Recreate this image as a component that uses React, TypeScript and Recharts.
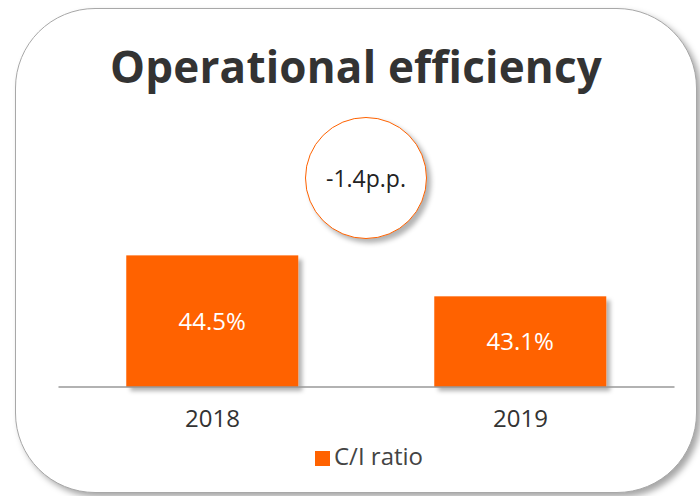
import React from 'react';
import { BarChart, Bar, XAxis, YAxis, Legend, LabelList } from 'recharts';

const years = ['2018', '2019'];
const ciRatio = [44.5, 43.1];
const changeLabel = '-1.4p.p.';

const data = years.map((year, i) => ({ year, ci: ciRatio[i] }));

const ORANGE = '#ff6200';
const FONT = '"Open Sans", "Noto Sans", sans-serif';

const ShadowBar = (props: any) => {
  const { x, y, width, height, fill } = props;
  return <rect x={x} y={y} width={width} height={height} fill={fill} filter="url(#barShadow)" />;
};

export default function App() {
  return (
    <div style={{ position: 'absolute', left: 0, top: 0, width: 700, height: 496, background: '#fff', fontFamily: FONT, overflow: 'hidden' }}>
      {/* card */}
      <div
        style={{
          position: 'absolute',
          left: 15,
          top: 8,
          width: 680,
          height: 483,
          border: '1.5px solid #a8a8a8',
          borderRadius: 80,
          boxShadow: '4px 4px 6px rgba(0,0,0,0.35)',
          background: '#fff',
        }}
      />
      <div
        style={{
          position: 'absolute',
          left: 0,
          top: 38,
          width: 712,
          textAlign: 'center',
          fontSize: 44,
          lineHeight: '56px',
          fontWeight: 700,
          color: '#333',
          letterSpacing: 0.2,
        }}
      >
        Operational efficiency
      </div>
      <div style={{ position: 'absolute', left: 0, top: 0 }}>
        <BarChart
          width={700}
          height={496}
          data={data}
          margin={{ top: 153, right: 25.5, bottom: 79, left: 58.5 }}
          barCategoryGap="22%"
        >
          <defs>
            <filter id="barShadow" x="-10%" y="-10%" width="130%" height="130%">
              <feDropShadow dx="4" dy="4" stdDeviation="2" floodColor="#000" floodOpacity="0.3" />
            </filter>
          </defs>
          <YAxis hide domain={[40, 48]} />
          <XAxis
            dataKey="year"
            tickLine={false}
            axisLine={{ stroke: '#999', strokeWidth: 1.5 }}
            tick={{ fontSize: 24, fill: '#333', fontFamily: FONT }}
            tickMargin={17}
          />
          <Legend
            verticalAlign="middle"
            align="center"
            layout="horizontal"
            iconType="square"
            iconSize={15}
            wrapperStyle={{ top: 439, left: 66, width: 616, fontSize: 24, fontFamily: FONT }}
            formatter={(v: string) => <span style={{ color: '#444' }}>{v}</span>}
          />
          <Bar dataKey="ci" name="C/I ratio" fill={ORANGE} shape={ShadowBar} isAnimationActive={false}>
            <LabelList
              dataKey="ci"
              position="center"
              formatter={(v: any) => `${v}%`}
              style={{ fill: '#fff', fontSize: 24, fontFamily: FONT }}
            />
          </Bar>
        </BarChart>
      </div>
      {/* change bubble */}
      <div
        style={{
          position: 'absolute',
          left: 305,
          top: 117,
          width: 120,
          height: 120,
          borderRadius: '50%',
          border: `1.5px solid ${ORANGE}`,
          background: '#fff',
          boxShadow: '4px 4px 5px rgba(0,0,0,0.3)',
          display: 'flex',
          alignItems: 'center',
          justifyContent: 'center',
          fontSize: 23,
          color: '#222',
        }}
      >
        {changeLabel}
      </div>
    </div>
  );
}
